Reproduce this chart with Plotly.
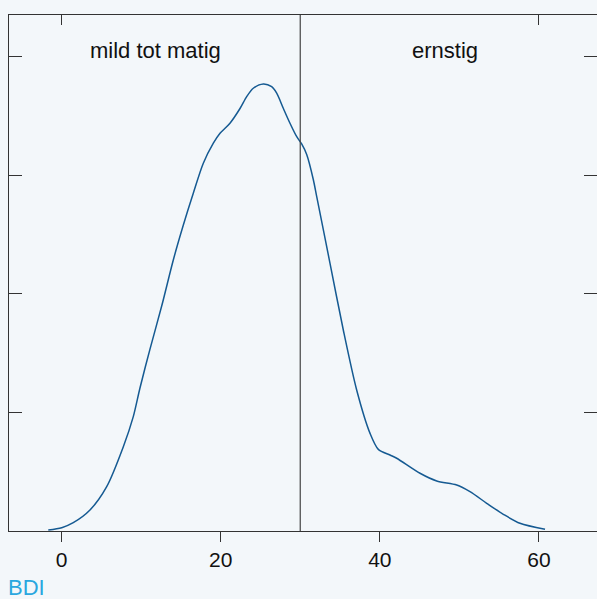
import plotly.graph_objects as go

# BDI score (x) and density (y, arbitrary units)
bdi = [-1.66, 0.03, 1.48, 3.58, 5.68, 7.77, 9.02, 9.86, 11.12, 12.59, 14.05, 15.31,
       16.56, 17.82, 19.08, 19.92, 21.17, 22.43, 23.27, 24.10, 25.36, 26.41, 27.04,
       27.87, 28.71, 29.56, 30.18, 30.81, 31.64, 32.07, 33.74, 35.41, 37.09, 38.77,
       39.81, 41.28, 42.12, 45.05, 47.15, 49.66, 51.33, 53.43, 55.52, 57.61, 60.76]
density = [0.008, 0.028, 0.070, 0.177, 0.374, 0.711, 0.965, 1.207, 1.535, 1.898, 2.287, 2.582,
           2.850, 3.103, 3.272, 3.356, 3.441, 3.565, 3.665, 3.736, 3.772, 3.749, 3.694,
           3.567, 3.441, 3.327, 3.266, 3.177, 2.966, 2.821, 2.259, 1.696, 1.190, 0.824,
           0.689, 0.641, 0.614, 0.487, 0.422, 0.388, 0.332, 0.234, 0.141, 0.065, 0.014]

cutoff = 30
x_ticks = [0, 20, 40, 60]
x_top_ticks = [0, 60]
y_ticks = [1, 2, 3, 4]
region_labels = ["mild tot matig", "ernstig"]
region_centers = [11.8, 48.2]
axis_title = "BDI"

FONT = "Liberation Sans, Arial, Helvetica, sans-serif"
BG = "#f3f7fa"
AX = "#333333"

fig = go.Figure()
fig.add_trace(go.Scatter(x=bdi, y=density, mode="lines",
                         line=dict(color="#155a92", width=1.5, shape="spline", smoothing=0.8),
                         hoverinfo="skip", showlegend=False))
# invisible trace for the top axis
fig.add_trace(go.Scatter(x=[bdi[0]], y=[density[0]], xaxis="x2", mode="markers",
                         marker=dict(opacity=0), showlegend=False, hoverinfo="skip"))

fig.add_shape(type="line", x0=cutoff, x1=cutoff, xref="x", y0=0, y1=1, yref="paper",
              line=dict(color="#444444", width=1.2))

for lab, cx in zip(region_labels, region_centers):
    fig.add_annotation(x=cx, xref="x", y=0.932, yref="paper", text=lab, showarrow=False,
                       font=dict(family=FONT, size=22, color="#111111"),
                       xanchor="center", yanchor="middle")

fig.add_annotation(x=0, xref="paper", xanchor="left", xshift=-3, y=-0.110, yref="paper",
                   yanchor="middle", text=axis_title, showarrow=False,
                   font=dict(family=FONT, size=22, color="#2aa7df"))

fig.update_layout(
    width=597, height=599,
    margin=dict(l=9, r=0, t=15, b=68),
    paper_bgcolor=BG, plot_bgcolor=BG,
    xaxis=dict(range=[-6.597, 67.29], tickvals=x_ticks, ticks="outside", ticklen=10,
               tickwidth=1.3, tickcolor=AX, showline=True, linecolor=AX, linewidth=1.3,
               showgrid=False, zeroline=False, ticklabelstandoff=0,
               tickfont=dict(family=FONT, size=21, color="#111111")),
    xaxis2=dict(overlaying="x", matches="x", side="top", tickvals=x_top_ticks,
                ticks="inside", ticklen=10, tickwidth=1.3, tickcolor=AX,
                showticklabels=False, showline=True, linecolor=AX, linewidth=1.3,
                showgrid=False, zeroline=False),
    yaxis=dict(range=[0, 4.354], tickvals=y_ticks, ticks="inside", ticklen=13,
               tickwidth=1.3, tickcolor=AX, showticklabels=False, showline=True,
               linecolor=AX, linewidth=1.3, mirror="ticks", showgrid=False, zeroline=False),
)

fig.write_html("out.html", config={"displayModeBar": False},
               post_script="document.body.style.margin='0px';document.body.style.overflow='hidden';")
